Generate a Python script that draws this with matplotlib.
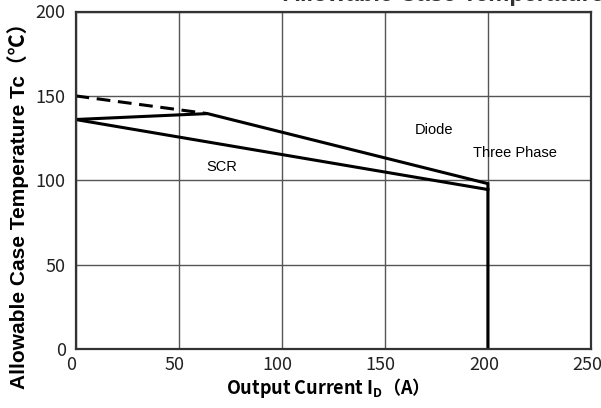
import matplotlib.pyplot as plt
import matplotlib.transforms as mtransforms

# curve data
diode_x = [0, 64, 200, 200]
diode_y = [136, 139.5, 98, 0]
scr_x = [0, 200]
scr_y = [136, 94.5]
dashed_x = [0, 64]
dashed_y = [150, 139.5]

x_ticks = [0, 50, 100, 150, 200, 250]
y_ticks = [0, 50, 100, 150, 200]

label_font = ["Liberation Sans", "Noto Sans CJK JP", "DejaVu Sans"]
tick_font = ["Liberation Sans Narrow", "Noto Sans CJK JP"]

fig = plt.figure(figsize=(6.01, 4.08), dpi=100)
ax = fig.add_axes([75.5 / 601, 59 / 408, 515.5 / 601, 337.5 / 408])

ax.plot(dashed_x, dashed_y, color="black", lw=2.2, ls=(0, (4.5, 2.5)))
ax.plot(diode_x, diode_y, color="black", lw=2.2, solid_joinstyle="miter")
ax.plot(scr_x, scr_y, color="black", lw=2.2)

ax.set_xlim(0, 250)
ax.set_ylim(0, 200)
ax.set_xticks(x_ticks)
ax.set_yticks(y_ticks)
ax.grid(True, color="#555555", lw=1.0)
ax.set_axisbelow(True)
for s in ax.spines.values():
    s.set_color("#333333")
    s.set_linewidth(1.6)

ax.tick_params(length=0, labelsize=13, labelcolor="#222222")
ax.tick_params(axis="x", pad=5)
ax.tick_params(axis="y", pad=7)
shift = mtransforms.ScaledTranslation(-4 / 100, 0, fig.dpi_scale_trans)
for lab in ax.get_xticklabels():
    lab.set_family(tick_font)
    lab.set_transform(lab.get_transform() + shift)
for lab in ax.get_yticklabels():
    lab.set_family(tick_font)

ax.text(174, 130, "Diode", ha="center", va="center", fontsize=10.5, family=label_font)
ax.text(213, 116, "Three Phase", ha="center", va="center", fontsize=10.5, family=label_font)
ax.text(71, 108, "SCR", ha="center", va="center", fontsize=10.5, family=label_font)

# mathtext uses a single font, so use the CJK one that has the full-width brackets
ax.set_xlabel("Output Current I$_\\mathregular{D}$（A）", fontsize=13,
              fontweight="bold", family="Noto Sans CJK JP")
ax.xaxis.set_label_coords(0.48, -0.08)
ax.set_ylabel("Allowable Case Temperature Tc（℃）", fontsize=15,
              fontweight="bold", family=label_font)
ax.yaxis.set_label_coords(-0.09, 0.44)

# title is cut off at the top edge in the reference
fig.text(283 / 601, 1 - 1.5 / 408, "Allowable Case Temperature", fontsize=17,
         fontweight="bold", family=label_font, color="#333333", va="baseline")

fig.savefig("out.png", dpi=100)
